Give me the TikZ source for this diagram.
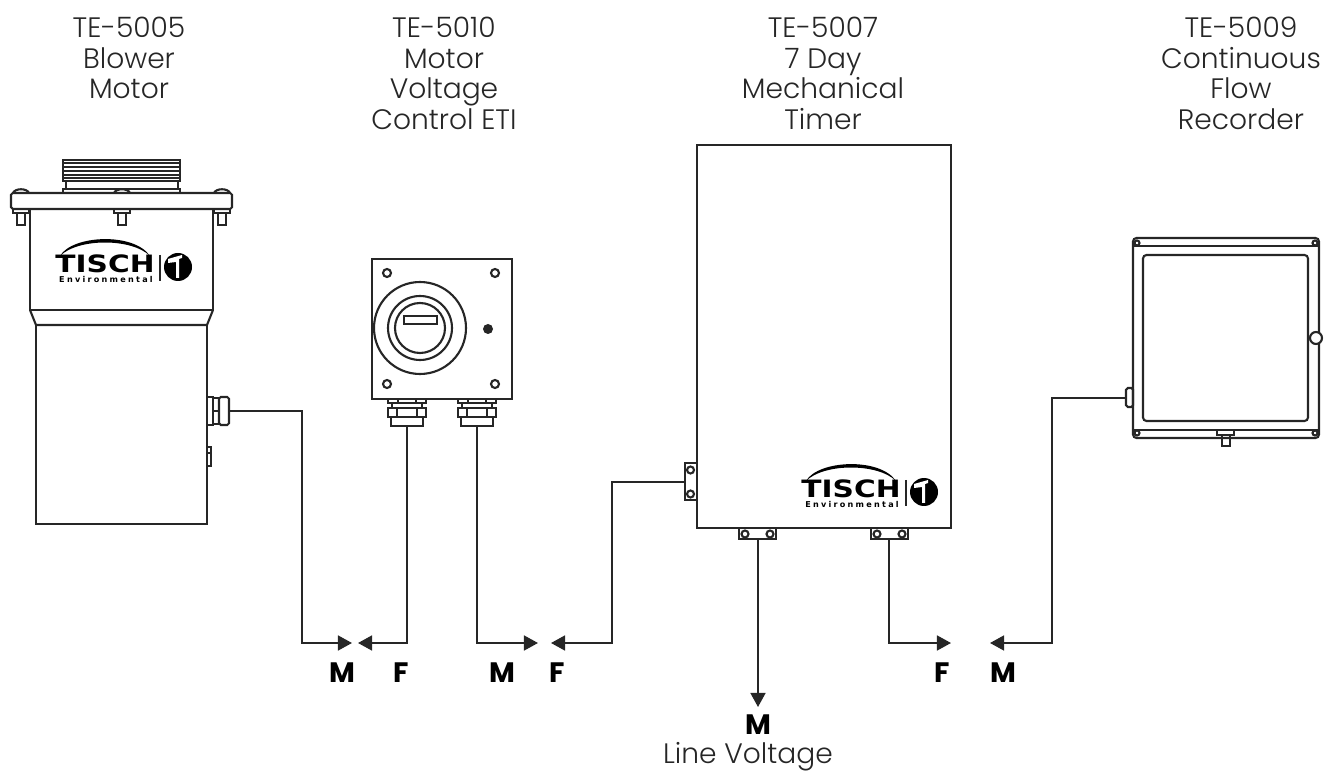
\documentclass[tikz,border=0pt]{standalone}
\usepackage{fontspec}
\setmainfont{Poppins}
\newfontfamily\capfont{Poppins Light}
\newfontfamily\logofont{DejaVu Sans}
\newfontfamily\logospaced[LetterSpace=28]{DejaVu Sans}
\usetikzlibrary{arrows.meta}

\tikzset{
  part/.style={draw=black!85, line width=1.2pt},
  thin part/.style={draw=black!85, line width=.8pt},
  wire/.style={draw=black!85, line width=1.1pt},
  tipped/.style={wire, -{Triangle[length=8pt, width=8.5pt]}},
  caption/.style={align=center, anchor=north, font=\capfont\fontsize{16}{17.35}\selectfont, text=black!85},
  sex/.style={font=\fontsize{16}{16}\selectfont\bfseries}
}

\newcommand{\tischlogo}[2]{
  \begin{scope}[shift={(#1,#2)}]
    \fill[black] (60,256) .. controls (72,235) and (134,232) .. (150,256)
      .. controls (132,238) and (78,238) .. (60,256) -- cycle;
    \node[inner sep=0pt, xscale=1.24] at (105,264) {\logofont\fontsize{13.6}{14}\selectfont\bfseries TISCH};
    \node[inner sep=0pt] at (106,279) {\logospaced\fontsize{4.6}{5}\selectfont\bfseries Environmental};
    \draw[black!85, line width=.6pt] (160,255) -- (160,281);
    \fill[black] (178,267) circle (14);
    \fill[white] (168,259) -- (182,255) -- (182,258) -- (179,259) -- (179,278) -- (176,278) -- (176,262) -- (168,263) -- cycle;
  \end{scope}
}

\begin{document}
\begin{tikzpicture}[x=0.02cm, y=-0.02cm]
  \useasboundingbox (0,0) rectangle (1325,776);

  \node[caption] (capblower) at (129,11) {TE-5005\\Blower\\Motor};
  \node[caption] (capcontrol) at (444,11) {TE-5010\\Motor\\Voltage\\Control ETI};
  \node[caption] (captimer) at (823,11) {TE-5007\\7 Day\\Mechanical\\Timer};
  \node[caption] (caprecorder) at (1241,11) {TE-5009\\Continuous\\Flow\\Recorder};

  % blower motor
  \draw[part] (63,160) rectangle (180,181);
  \foreach \y in {163,167,171,175,178}
    \draw[part] (63,\y) -- (180,\y);
  \draw[part] (66,181) rectangle (178,189);
  \draw[part] (63,189) rectangle (180,193);
  \foreach \x in {21,122,222}
  {
    \draw[part, fill=white] (\x-8,193) .. controls (\x-6,188) and (\x+6,188) .. (\x+8,193);
    \draw[thin part] (\x-8,209) rectangle (\x+8,213);
    \draw[part] (\x-4,213) rectangle (\x+4,225);
  }
  \draw[part, rounded corners=1pt] (11,193) rectangle (232,209);
  \draw[part] (30,209) -- (30,310) -- (213,310) -- (213,209);
  \draw[part] (30,310) -- (36,325) -- (207,325) -- (213,310);
  \draw[part] (36,325) rectangle (207,524);
  \draw[part] (207,397) rectangle (213,425);
  \draw[part] (213,398) rectangle (219,424);
  \draw[part, rounded corners=1pt] (219,397) rectangle (229,425);
  \draw[thin part] (213,411) -- (219,411);
  \draw[thin part] (207,447) rectangle (211,466);
  \draw[thin part] (207,453) -- (211,453);
  \tischlogo{0}{0}

  % voltage control
  \draw[part] (372,259) rectangle (512,399);
  \foreach \x/\y in {387/273, 495/273, 387/384, 495/384}
    \draw[part] (\x,\y) circle (4);
  \foreach \r in {46,32,25}
    \draw[part] (420,328) circle (\r);
  \draw[part] (404,316) rectangle (437,324);
  \fill[black!85] (488,329) circle (5);
  \foreach \x in {407,477}
  {
    \draw[part] (\x-19,399) rectangle (\x+19,403);
    \draw[part] (\x-9,399) -- (\x-9,403) (\x+9,399) -- (\x+9,403);
    \draw[part] (\x-15,403) rectangle (\x+15,408);
    \draw[part] (\x-19,408) rectangle (\x+19,417);
    \draw[part] (\x-10,408) -- (\x-10,417) (\x+10,408) -- (\x+10,417);
    \draw[part] (\x-16,417) rectangle (\x+16,426);
  }

  % timer
  \draw[part] (697,145) rectangle (951,528);
  \draw[part] (685,463) rectangle (697,500);
  \foreach \y in {470,494}
    \draw[part] (690.5,\y) circle (3.5);
  \foreach \x in {739,871}
  {
    \draw[part] (\x,528) rectangle (\x+37,539);
    \draw[part] (\x+6,534) circle (3.5);
    \draw[part] (\x+31,534) circle (3.5);
  }
  \tischlogo{746}{225}

  % recorder
  \draw[part, rounded corners=2pt] (1133,238) rectangle (1319,438);
  \draw[part] (1133,246) -- (1319,246) (1133,430) -- (1319,430);
  \draw[part, rounded corners=2pt] (1143,255) rectangle (1308,421);
  \foreach \x/\y in {1137/243, 1315/243, 1137/433, 1315/433}
    \draw[part] (\x,\y) circle (2.5);
  \draw[part, fill=white] (1316,338) circle (6);
  \draw[part, rounded corners=1pt] (1126,388) rectangle (1133,407);
  \draw[thin part] (1217,430) rectangle (1234,435);
  \draw[part] (1222,435) rectangle (1230,446);

  % wire ends
  \coordinate (blowerout) at (229,411);
  \coordinate (ctlin) at (407,426);
  \coordinate (ctlout) at (477,426);
  \coordinate (timerleft) at (685,482);
  \coordinate (timerline) at (758,539);
  \coordinate (timerright) at (889,539);
  \coordinate (recorderout) at (1126,398);
  \coordinate (kneea) at (302,643);
  \coordinate (kneeb) at (612,643);
  \coordinate (kneec) at (1052,643);
  \coordinate (tipa) at (352,643);
  \coordinate (tipb) at (358,643);
  \coordinate (tipc) at (538,643);
  \coordinate (tipd) at (551,643);
  \coordinate (tipe) at (951,643);
  \coordinate (tipf) at (990,643);
  \coordinate (tipg) at (758,707);

  \draw[tipped] (blowerout) -| (kneea) -- (tipa);
  \draw[tipped] (ctlin) |- (tipb);
  \draw[tipped] (ctlout) |- (tipc);
  \draw[tipped] (timerleft) -| (kneeb) -- (tipd);
  \draw[tipped] (timerline) -- (tipg);
  \draw[tipped] (timerright) |- (tipe);
  \draw[tipped] (recorderout) -| (kneec) -- (tipf);

  \foreach \name/\x/\t in {ma/342/M, fa/401/F, mb/502/M, fb/557/F, fc/942/F, mc/1003/M}
    \node[sex] (\name) at (\x,673) {\t};
  \node[sex] (md) at (758,725) {M};
  \node[caption, anchor=center] (linevoltage) at (748,757) {Line Voltage};
\end{tikzpicture}
\end{document}
